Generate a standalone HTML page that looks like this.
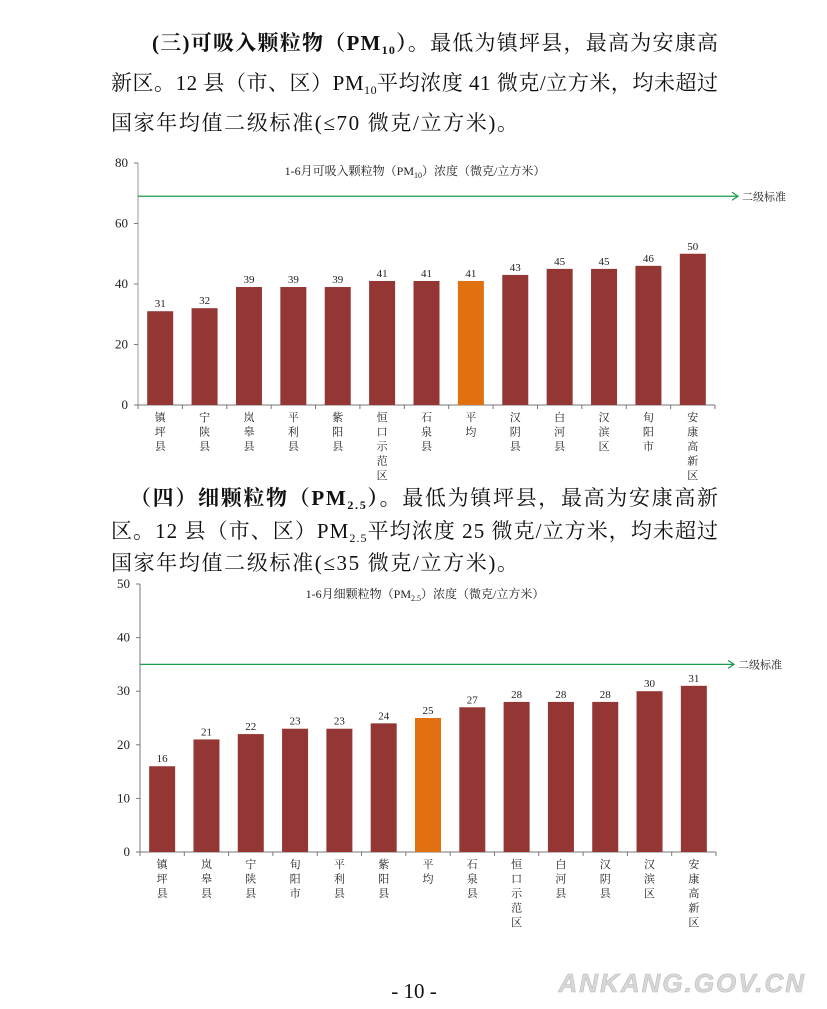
<!DOCTYPE html>
<html><head><meta charset="utf-8">
<style>
html,body{margin:0;padding:0;background:#fff;}
svg{display:block;}
.p{font-family:"Liberation Serif","Noto Serif CJK SC",serif;font-size:21px;fill:#111;}
.b{font-weight:bold;}
.ax{font-family:"Liberation Serif","Noto Serif CJK SC",serif;font-size:13px;fill:#222;}
.sm{font-family:"Liberation Serif","Noto Serif CJK SC",serif;font-size:11px;fill:#222;}
.ti{font-family:"Liberation Serif","Noto Serif CJK SC",serif;font-size:12px;fill:#222;}
</style></head><body>
<svg id="page" width="827" height="1009" viewBox="0 0 827 1009">
<g>
<text class="p" x="152" y="50" textLength="566" lengthAdjust="spacing"><tspan class="b">(三)可吸入颗粒物（PM<tspan font-size="12" dy="4">10</tspan><tspan dy="-4">）。</tspan></tspan>最低为镇坪县，最高为安康高</text>
<text class="p" x="111" y="90" textLength="607" lengthAdjust="spacing">新区。12 县（市、区）PM<tspan font-size="12" dy="4">10</tspan><tspan dy="-4">平均浓度 41 微克/立方米，均未超过</tspan></text>
<text class="p" x="111" y="130" textLength="407" lengthAdjust="spacing">国家年均值二级标准(≤70 微克/立方米)。</text>
</g>
<g id="chart1"></g>
<g>
<text class="p" x="130" y="505" textLength="588" lengthAdjust="spacing"><tspan class="b">（四）细颗粒物（PM<tspan font-size="12" dy="4">2.5</tspan><tspan dy="-4">）。</tspan></tspan>最低为镇坪县，最高为安康高新</text>
<text class="p" x="111" y="538" textLength="607" lengthAdjust="spacing">区。12 县（市、区）PM<tspan font-size="12" dy="4">2.5</tspan><tspan dy="-4">平均浓度 25 微克/立方米，均未超过</tspan></text>
<text class="p" x="111" y="570" textLength="407" lengthAdjust="spacing">国家年均值二级标准(≤35 微克/立方米)。</text>
</g>
<g id="chart2"></g>
<text class="p" x="414" y="998" text-anchor="middle" font-size="16">- 10 -</text>
<text x="806" y="992" text-anchor="end" font-family="Liberation Sans,sans-serif" font-size="26" font-weight="bold" font-style="italic" fill="#d8d8d8" stroke="#bbb" stroke-width="0.6" letter-spacing="2">ANKANG.GOV.CN</text>
</svg>
<script>
const cats1 = ["镇坪县","宁陕县","岚皋县","平利县","紫阳县","恒口示范区","石泉县","平均","汉阴县","白河县","汉滨区","旬阳市","安康高新区"];
const vals1 = [31,32,39,39,39,41,41,41,43,45,45,46,50];
const ticks1 = [0,20,40,60,80];
const std1 = 69;
const cats2 = ["镇坪县","岚皋县","宁陕县","旬阳市","平利县","紫阳县","平均","石泉县","恒口示范区","白河县","汉阴县","汉滨区","安康高新区"];
const vals2 = [16,21,22,23,23,24,25,27,28,28,28,30,31];
const ticks2 = [0,10,20,30,40,50];
const std2 = 35;

const NS="http://www.w3.org/2000/svg";
function mk(parent,tag,attrs,txt){const e=document.createElementNS(NS,tag);for(const k in attrs)e.setAttribute(k,attrs[k]);if(txt!==undefined)e.textContent=txt;parent.appendChild(e);return e;}

function draw(gid,cats,vals,ticks,std,cfg){
  const g=document.getElementById(gid);
  const max=ticks[ticks.length-1];
  const y=v=>cfg.y0-(cfg.y0-cfg.yTop)*v/max;
  const step=(cfg.xEnd-cfg.x0)/cats.length;
  const x=i=>cfg.x0+step*(i+0.5);
  const ax=mk(g,'line',{x1:cfg.x0,y1:cfg.yTop,x2:cfg.x0,y2:cfg.y0,stroke:cfg.axCol,'stroke-width':cfg.axW});
  
  
  const bx=mk(g,'line',{x1:cfg.x0-4,y1:cfg.y0,x2:cfg.xEnd,y2:cfg.y0,stroke:'#777','stroke-width':1});
  
  
  ticks.forEach(t=>{
    mk(g,'line',{x1:cfg.x0-4,y1:y(t),x2:cfg.x0,y2:y(t),stroke:'#777'});
    const tl=mk(g,'text',{class:'ax',x:cfg.x0-10,y:y(t)+4,'text-anchor':'end'},String(t));
    
    
  });
  for(let i=0;i<=cats.length;i++) mk(g,'line',{x1:cfg.x0+step*i,y1:cfg.y0,x2:cfg.x0+step*i,y2:cfg.y0+4,stroke:'#777'});
  const ttl=mk(g,'text',{class:'ti',x:cfg.titleX,y:cfg.titleY,'text-anchor':'middle'});
  
  
  mk(ttl,'tspan',{},'1-6月'+cfg.titleA+'（PM');
  mk(ttl,'tspan',{'font-size':8,dy:3},cfg.sub);
  mk(ttl,'tspan',{dy:-3},'）浓度（微克/立方米）');
  const sl=mk(g,'line',{x1:cfg.x0,y1:y(std),x2:cfg.arrowX,y2:y(std),stroke:'#1a9a4a','stroke-width':1.3});
  
  
  mk(g,'polyline',{points:(cfg.arrowX-6)+','+(y(std)-4)+' '+cfg.arrowX+','+y(std)+' '+(cfg.arrowX-6)+','+(y(std)+4),fill:'none',stroke:'#1a9a4a','stroke-width':1.2});
  const sll=mk(g,'text',{class:'sm',x:cfg.arrowX+4,y:y(std)+4,'font-size':9,fill:'#444'},'二级标准');
  
  
  cats.forEach((c,i)=>{
    const bw=26;
    const r=mk(g,'rect',{x:x(i)-bw/2,y:y(vals[i]),width:bw,height:cfg.y0-y(vals[i]),fill:c==='平均'?'#e07010':'#943634'});
    
    
    const vl=mk(g,'text',{class:'sm',x:x(i),y:y(vals[i])-4,'text-anchor':'middle'},String(vals[i]));
    
    
    const cl=mk(g,'text',{class:'sm',x:x(i),y:cfg.y0+16,'text-anchor':'middle'});
    
    
    [...c].forEach((ch,k)=>mk(cl,'tspan',{x:x(i),y:cfg.y0+16+k*14.5},ch));
  });
}
draw('chart1',cats1,vals1,ticks1,std1,{x0:138,xEnd:715,y0:405,yTop:163,axCol:'#bbb',axW:1.5,titleX:415,titleY:175,titleA:'可吸入颗粒物',sub:'10',arrowX:738});
draw('chart2',cats2,vals2,ticks2,std2,{x0:140,xEnd:716,y0:852,yTop:584,axCol:'#777',axW:1,titleX:425,titleY:598,titleA:'细颗粒物',sub:'2.5',arrowX:734});
</script>
</body></html>
